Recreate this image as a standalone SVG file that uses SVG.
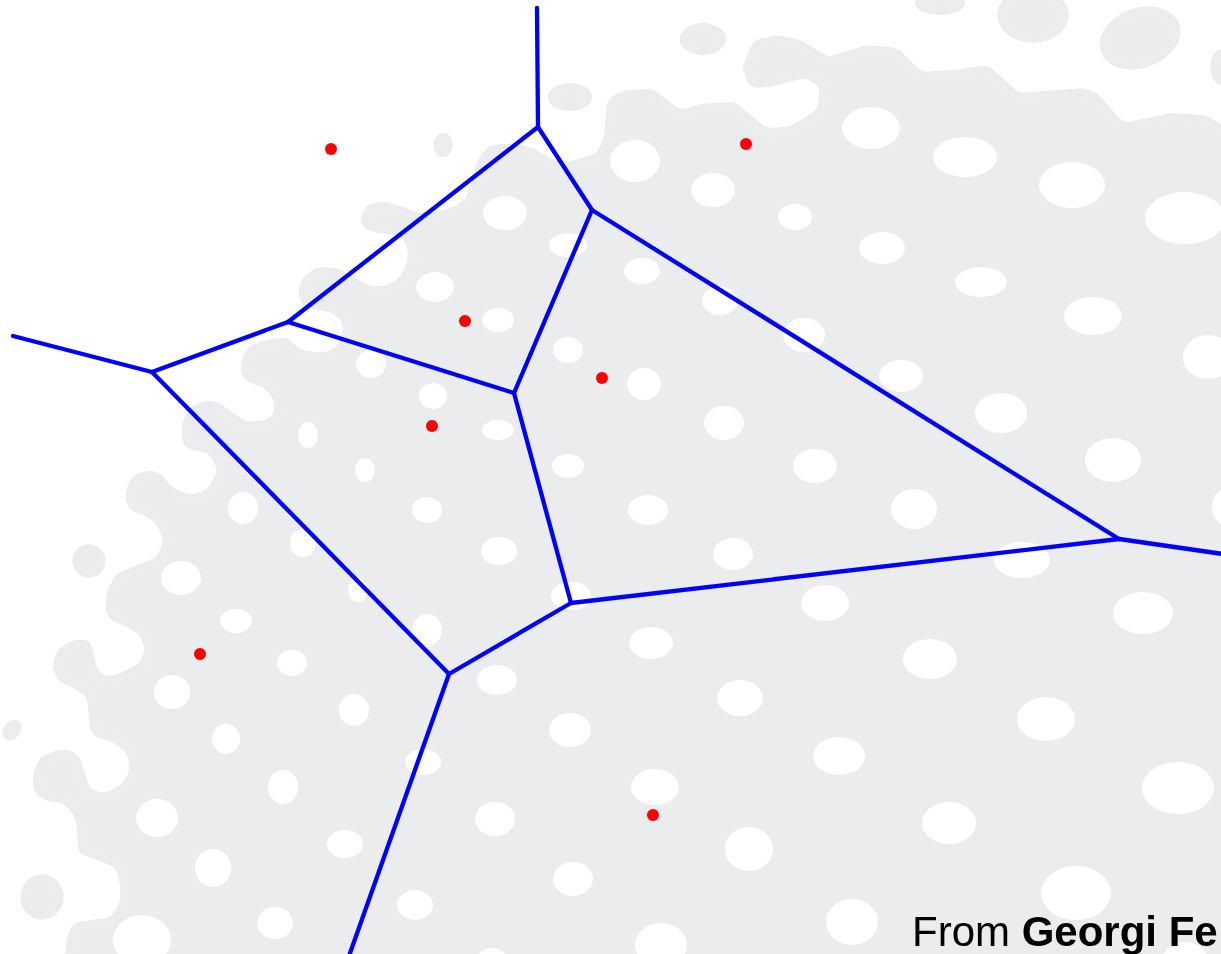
<svg xmlns="http://www.w3.org/2000/svg" width="1221" height="954" viewBox="0 0 1221 954">
<style>
.g{fill:#ebecee}
.h{fill:#ffffff}
.e{stroke:#0000ff;stroke-width:4.3;stroke-linecap:round;fill:none}
.s{fill:#ff0000}
.t{font-family:"Liberation Sans",Arial,sans-serif;font-size:42px;fill:#000}
</style>
<defs>
<filter id="smooth" filterUnits="userSpaceOnUse" x="-60" y="-60" width="1341" height="1074">
<feGaussianBlur in="SourceGraphic" stdDeviation="3.5"/>
<feComponentTransfer><feFuncA type="linear" slope="16" intercept="-7.5"/></feComponentTransfer>
</filter>
</defs>
<rect width="1221" height="954" fill="#ffffff"/>
<g id="background">
<g filter="url(#smooth)">
<path class="g" d="M607,103 L610,97 L626,90 L653,89 L680,110 L700,104 L735,102 L766,128 L789,127 L817,110 L820,87 L805,78 L770,87 L750,88 L742,67 L754,40 L778,35 L801,40 L828,57 L867,45 L898,48 L922,72 L953,70 L988,65 L1019,93 L1085,88 L1097,93 L1124,123 L1171,113 L1206,115 L1221,125 L1250,125 L1250,985 L62,985 L65,954 L67,937 L73,923 L90,920 L110,918 L120,903 L120,883 L115,867 L97,860 L78,853 L77,827 L73,813 L63,803 L43,800 L33,790 L33,773 L40,757 L57,750 L70,750 L80,757 L85,773 L90,790 L107,793 L123,783 L130,770 L127,753 L113,742 L97,738 L90,730 L88,707 L87,697 L73,688 L57,680 L52,667 L57,650 L73,640 L90,640 L93,650 L97,670 L107,677 L123,672 L140,663 L145,650 L140,635 L127,627 L110,620 L105,610 L107,590 L117,573 L133,567 L157,557 L163,543 L160,530 L150,518 L130,510 L125,500 L127,487 L133,475 L150,470 L160,473 L173,488 L190,495 L207,490 L217,473 L215,463 L208,453 L190,450 L182,443 L182,423 L190,407 L207,400 L220,403 L233,413 L247,422 L267,420 L275,413 L273,397 L263,387 L247,382 L240,373 L242,357 L250,345 L267,340 L287,337 L300,350 L323,353 L337,347 L343,333 L342,320 L330,312 L313,310 L300,303 L298,290 L303,277 L317,267 L337,268 L350,275 L367,285 L383,287 L400,278 L408,260 L407,243 L397,235 L377,233 L363,228 L360,217 L367,205 L383,201 L403,207 L417,213 L437,212 L453,207 L465,200 L473,180 L477,160 L490,145 L517,143 L537,150 L557,162 L577,160 L597,153 L604,137 Z"/>
<ellipse class="g" cx="570" cy="97" rx="23" ry="14"/>
<ellipse class="g" cx="443" cy="145" rx="10" ry="13"/>
<ellipse class="g" cx="703" cy="39" rx="24" ry="16"/>
<ellipse class="g" cx="940" cy="3" rx="26" ry="12"/>
<ellipse class="g" cx="1033" cy="15" rx="36" ry="28"/>
<ellipse class="g" cx="1140" cy="38" rx="42" ry="30" transform="rotate(-20 1140 38)"/>
<ellipse class="g" cx="1225" cy="67" rx="15" ry="20"/>
<ellipse class="g" cx="89" cy="561" rx="17" ry="17"/>
<ellipse class="g" cx="12" cy="730" rx="9" ry="12" transform="rotate(35 12 730)"/>
<ellipse class="g" cx="42" cy="897" rx="22" ry="23"/>
</g>
<ellipse class="h" cx="635" cy="161" rx="25" ry="21"/>
<ellipse class="h" cx="713" cy="190" rx="22" ry="17"/>
<ellipse class="h" cx="795" cy="217" rx="17" ry="13"/>
<ellipse class="h" cx="871" cy="128" rx="29" ry="21"/>
<ellipse class="h" cx="965" cy="157" rx="32" ry="20"/>
<ellipse class="h" cx="1072" cy="185" rx="33" ry="23"/>
<ellipse class="h" cx="1185" cy="218" rx="40" ry="26"/>
<ellipse class="h" cx="642" cy="271" rx="18" ry="13"/>
<ellipse class="h" cx="720" cy="301" rx="18" ry="14"/>
<ellipse class="h" cx="882" cy="248" rx="23" ry="16"/>
<ellipse class="h" cx="981" cy="282" rx="26" ry="15"/>
<ellipse class="h" cx="1093" cy="316" rx="29" ry="19"/>
<ellipse class="h" cx="1208" cy="357" rx="25" ry="22"/>
<ellipse class="h" cx="804" cy="335" rx="21" ry="17"/>
<ellipse class="h" cx="901" cy="376" rx="22" ry="16"/>
<ellipse class="h" cx="1001" cy="413" rx="26" ry="20"/>
<ellipse class="h" cx="644" cy="384" rx="17" ry="16"/>
<ellipse class="h" cx="724" cy="423" rx="20" ry="17"/>
<ellipse class="h" cx="815" cy="466" rx="22" ry="17"/>
<ellipse class="h" cx="1113" cy="460" rx="28" ry="22"/>
<ellipse class="h" cx="648" cy="510" rx="20" ry="15"/>
<ellipse class="h" cx="914" cy="509" rx="23" ry="20"/>
<ellipse class="h" cx="733" cy="554" rx="20" ry="16"/>
<ellipse class="h" cx="1022" cy="560" rx="28" ry="18"/>
<ellipse class="h" cx="1230" cy="507" rx="18" ry="20"/>
<ellipse class="h" cx="825" cy="603" rx="24" ry="18"/>
<ellipse class="h" cx="1143" cy="613" rx="30" ry="21"/>
<ellipse class="h" cx="651" cy="643" rx="22" ry="16"/>
<ellipse class="h" cx="930" cy="659" rx="27" ry="20"/>
<ellipse class="h" cx="740" cy="698" rx="23" ry="18"/>
<ellipse class="h" cx="1046" cy="719" rx="29" ry="22"/>
<ellipse class="h" cx="839" cy="756" rx="26" ry="19"/>
<ellipse class="h" cx="655" cy="787" rx="24" ry="18"/>
<ellipse class="h" cx="1178" cy="788" rx="36" ry="26"/>
<ellipse class="h" cx="749" cy="849" rx="24" ry="22"/>
<ellipse class="h" cx="949" cy="823" rx="27" ry="21"/>
<ellipse class="h" cx="1076" cy="893" rx="35" ry="27"/>
<ellipse class="h" cx="852" cy="922" rx="26" ry="23"/>
<ellipse class="h" cx="661" cy="945" rx="26" ry="22"/>
<ellipse class="h" cx="1185" cy="958" rx="22" ry="16"/>
<ellipse class="h" cx="243" cy="508" rx="15" ry="16"/>
<ellipse class="h" cx="303" cy="543" rx="13" ry="14"/>
<ellipse class="h" cx="427" cy="510" rx="15" ry="13"/>
<ellipse class="h" cx="499" cy="551" rx="18" ry="14"/>
<ellipse class="h" cx="181" cy="578" rx="20" ry="17"/>
<ellipse class="h" cx="358" cy="590" rx="10" ry="12"/>
<ellipse class="h" cx="571" cy="596" rx="20" ry="14"/>
<ellipse class="h" cx="236" cy="621" rx="16" ry="12"/>
<ellipse class="h" cx="427" cy="630" rx="15" ry="16"/>
<ellipse class="h" cx="292" cy="663" rx="15" ry="13"/>
<ellipse class="h" cx="172" cy="692" rx="18" ry="17"/>
<ellipse class="h" cx="354" cy="710" rx="15" ry="16"/>
<ellipse class="h" cx="497" cy="680" rx="20" ry="15"/>
<ellipse class="h" cx="226" cy="739" rx="14" ry="15"/>
<ellipse class="h" cx="570" cy="730" rx="21" ry="17"/>
<ellipse class="h" cx="423" cy="762" rx="18" ry="13"/>
<ellipse class="h" cx="283" cy="787" rx="15" ry="17"/>
<ellipse class="h" cx="157" cy="818" rx="21" ry="19"/>
<ellipse class="h" cx="345" cy="844" rx="18" ry="14"/>
<ellipse class="h" cx="495" cy="819" rx="20" ry="17"/>
<ellipse class="h" cx="213" cy="868" rx="18" ry="19"/>
<ellipse class="h" cx="573" cy="879" rx="20" ry="17"/>
<ellipse class="h" cx="415" cy="905" rx="18" ry="15"/>
<ellipse class="h" cx="275" cy="923" rx="18" ry="16"/>
<ellipse class="h" cx="142" cy="940" rx="29" ry="25"/>
<ellipse class="h" cx="492" cy="958" rx="14" ry="10"/>
<ellipse class="h" cx="435" cy="287" rx="19" ry="15"/>
<ellipse class="h" cx="505" cy="213" rx="22" ry="17"/>
<ellipse class="h" cx="568" cy="245" rx="19" ry="12"/>
<ellipse class="h" cx="498" cy="320" rx="16" ry="12"/>
<ellipse class="h" cx="568" cy="350" rx="15" ry="13"/>
<ellipse class="h" cx="371" cy="364" rx="15" ry="14"/>
<ellipse class="h" cx="433" cy="396" rx="14" ry="13"/>
<ellipse class="h" cx="498" cy="430" rx="16" ry="10"/>
<ellipse class="h" cx="308" cy="435" rx="10" ry="13"/>
<ellipse class="h" cx="365" cy="470" rx="10" ry="12"/>
<ellipse class="h" cx="568" cy="466" rx="16" ry="12"/>
</g>
<g id="connectors">
<line class="e" x1="537" y1="8" x2="538" y2="127"/>
<line class="e" x1="538" y1="127" x2="592" y2="210"/>
<line class="e" x1="538" y1="127" x2="288" y2="322"/>
<line class="e" x1="288" y1="322" x2="152" y2="372"/>
<line class="e" x1="152" y1="372" x2="13" y2="336"/>
<line class="e" x1="288" y1="322" x2="514" y2="393"/>
<line class="e" x1="592" y1="210" x2="514" y2="393"/>
<line class="e" x1="592" y1="210" x2="1119" y2="539"/>
<line class="e" x1="514" y1="393" x2="571" y2="603"/>
<line class="e" x1="571" y1="603" x2="1119" y2="539"/>
<line class="e" x1="1119" y1="539" x2="1223" y2="554"/>
<line class="e" x1="571" y1="603" x2="449" y2="674"/>
<line class="e" x1="152" y1="372" x2="449" y2="674"/>
<line class="e" x1="449" y1="674" x2="349" y2="956"/>
</g>
<g id="site1"><circle class="s" cx="331" cy="149" r="6"/></g>
<g id="site2"><circle class="s" cx="746" cy="144" r="6"/></g>
<g id="site3"><circle class="s" cx="465" cy="321" r="6"/></g>
<g id="site4"><circle class="s" cx="602" cy="378" r="6"/></g>
<g id="site5"><circle class="s" cx="432" cy="426" r="6"/></g>
<g id="site6"><circle class="s" cx="200" cy="654" r="6"/></g>
<g id="site7"><circle class="s" cx="653" cy="815" r="6"/></g>
<text class="t" x="912" y="946">From <tspan font-weight="bold">Georgi Fe</tspan></text>
</svg>
